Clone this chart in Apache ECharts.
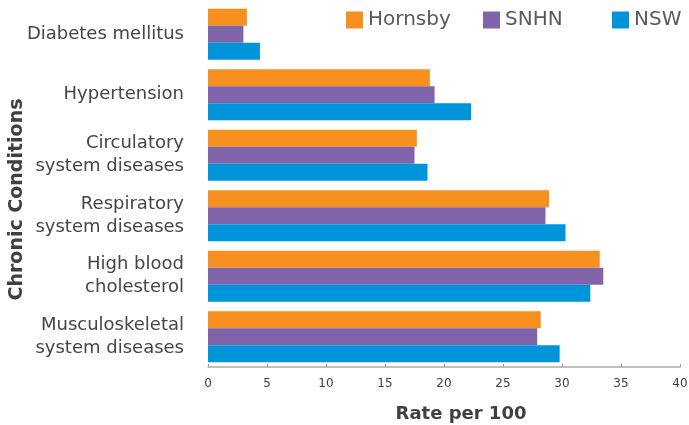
<!DOCTYPE html>
<html>
<head>
<meta charset="utf-8">
<script src="https://cdn.jsdelivr.net/npm/echarts@6/dist/echarts.min.js"></script>
<style>
html,body{margin:0;padding:0;background:#fff}
#chart{width:689px;height:425px}
</style>
</head>
<body>
<div id="chart"></div>
<script>
var conditions = ['Diabetes mellitus', 'Hypertension', 'Circulatory\nsystem diseases',
    'Respiratory\nsystem diseases', 'High blood\ncholesterol', 'Musculoskeletal\nsystem diseases'];
var hornsby = [3.3, 18.8, 17.7, 28.9, 33.2, 28.2];
var snhn = [3.0, 19.2, 17.5, 28.6, 33.5, 27.9];
var nsw = [4.4, 22.3, 18.6, 30.3, 32.4, 29.8];
var xTicks = [0, 40, 5]; // min, max, step

var font = 'DejaVu Sans';
var chart = echarts.init(document.getElementById('chart'));

function legendAt(name, left){
    return {
        data: [name], left: left, top: 10, padding: 0,
        itemWidth: 17, itemHeight: 17, itemGap: 0, icon: 'rect',
        textStyle: {fontFamily: font, fontSize: 20, color: '#5a5a5a'}
    };
}

var option = {
    animation: false,
    legend: [legendAt('Hornsby', 346), legendAt('SNHN', 483), legendAt('NSW', 612)],
    grid: {left: 208, right: 9, top: 4, bottom: 58, outerBoundsMode: 'none', containLabel: false},
    xAxis: {
        type: 'value', min: xTicks[0], max: xTicks[1], interval: xTicks[2],
        name: 'Rate per 100', nameLocation: 'middle', nameGap: 38, nameMoveOverlap: false,
        nameTextStyle: {fontFamily: font, fontSize: 18, fontWeight: 'bold', color: '#404040', padding: [0, 0, 0, 34]},
        axisLine: {show: true, lineStyle: {color: '#aaa', width: 1.5}},
        axisTick: {show: true, inside: true, length: 3, lineStyle: {color: '#999'}},
        axisLabel: {fontFamily: font, fontSize: 12, color: '#404040', margin: 11},
        splitLine: {show: false}
    },
    yAxis: {
        type: 'category', data: conditions, inverse: true,
        name: 'Chronic Conditions', nameLocation: 'middle', nameGap: 181, nameRotate: 90, nameMoveOverlap: false,
        nameTextStyle: {fontFamily: font, fontSize: 19, fontWeight: 'bold', color: '#404040', padding: [0, 28, 0, 0]},
        axisLine: {show: false},
        axisTick: {show: false},
        axisLabel: {fontFamily: font, fontSize: 18, color: '#454545', margin: 24, lineHeight: 23, align: 'right'}
    },
    series: [
        {name: 'Hornsby', type: 'bar', data: hornsby, itemStyle: {color: '#F7901E'}, barGap: '0%', barCategoryGap: '16%'},
        {name: 'SNHN', type: 'bar', data: snhn, itemStyle: {color: '#8064AA'}, barGap: '0%', barCategoryGap: '16%'},
        {name: 'NSW', type: 'bar', data: nsw, itemStyle: {color: '#0095DA'}, barGap: '0%', barCategoryGap: '16%'}
    ]
};
chart.setOption(option);
</script>
</body>
</html>
